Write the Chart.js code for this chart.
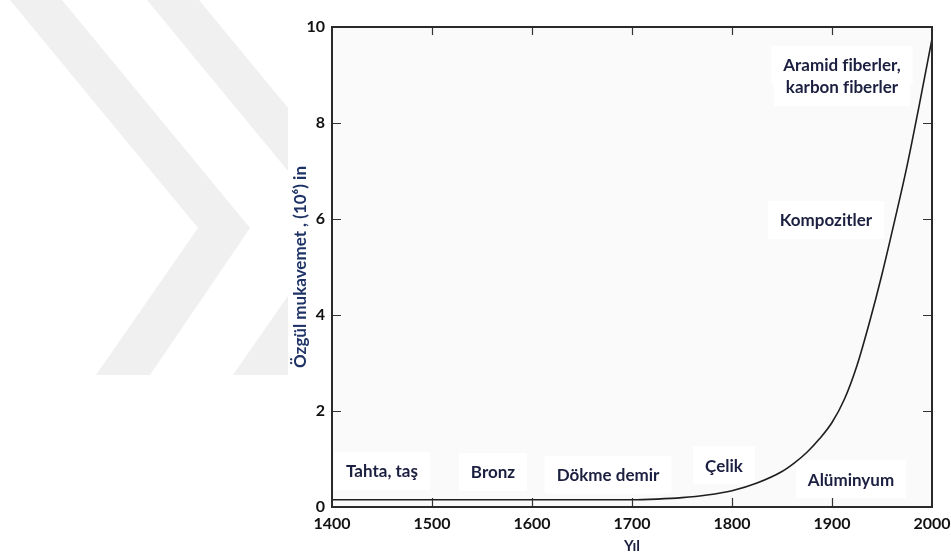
<!DOCTYPE html>
<html lang="tr">
<head>
    <meta charset="UTF-8">
    <title>Özgül mukavemet - Yıl</title>
    <script src="https://cdn.jsdelivr.net/npm/chart.js"></script>
    <style>
        html, body { margin: 0; padding: 0; background: #fff; }
        #wrap { width: 951px; height: 558px; }
    </style>
</head>
<body>
<div id="wrap"><canvas id="strengthChart"></canvas></div>

<script>
    // curve (year -> specific strength, 10^6 in)
    const years  = [1400, 1500, 1600, 1700, 1725, 1750, 1775, 1800, 1825, 1850, 1862.5, 1875, 1887.5, 1900, 1912.5, 1925, 1937.5, 1950, 1962.5, 1975, 1987.5, 2000];
    const values = [0.15, 0.15, 0.15, 0.15, 0.165, 0.195, 0.25, 0.34, 0.5, 0.74, 0.92, 1.14, 1.42, 1.76, 2.25, 2.95, 3.85, 4.85, 5.95, 7.1, 8.4, 9.75];

    // material labels placed on the chart (in data units)
    const noteTexts  = ['Tahta, taş', 'Bronz', 'Dökme demir', 'Çelik', 'Alüminyum', 'Kompozitler', 'Aramid fiberler,', 'karbon fiberler'];
    const noteYears  = [1450, 1561, 1676, 1792, 1919, 1894, 1910, 1910];
    const noteValues = [0.73, 0.71, 0.65, 0.85, 0.56, 5.96, 9.19, 8.73];

    const xTicks = [1400, 1500, 1600, 1700, 1800, 1900, 2000];
    const yTicks = [0, 2, 4, 6, 8, 10];

    const navy = '#1c2040';
    const noteFont = 'bold 17px Lato';

    const backdrop = {
        id: 'backdrop',
        beforeDraw(chart) {
            const c = chart.ctx;
            const a = chart.chartArea;
            c.save();
            c.fillStyle = '#fff';
            c.fillRect(0, 0, chart.width, chart.height);

            // faint chevron watermark on the left
            c.fillStyle = '#f0f0f0';
            [0, 137].forEach(dx => {
                c.beginPath();
                c.moveTo(10 + dx, 0);
                c.lineTo(62 + dx, 0);
                c.lineTo(250 + dx, 228);
                c.lineTo(150 + dx, 375);
                c.lineTo(96 + dx, 375);
                c.lineTo(198 + dx, 228);
                c.closePath();
                c.fill();
            });
            c.fillStyle = '#fff';
            c.fillRect(288, 0, chart.width - 288, chart.height);

            c.fillStyle = '#fafafa';
            c.fillRect(a.left, a.top, a.right - a.left, a.bottom - a.top);

            // white boxes behind the labels
            c.font = noteFont;
            c.fillStyle = '#fff';
            const xs = chart.scales.x, ys = chart.scales.y;
            noteTexts.forEach((t, i) => {
                const w = c.measureText(t).width;
                const px = xs.getPixelForValue(noteYears[i]);
                const py = ys.getPixelForValue(noteValues[i]);
                c.fillRect(px - w / 2 - 12, py - 20, w + 24, 38);
            });
            c.restore();
        },
        afterDraw(chart) {
            const c = chart.ctx;
            const a = chart.chartArea;
            const xs = chart.scales.x, ys = chart.scales.y;
            c.save();
            c.strokeStyle = '#333';
            c.lineWidth = 1.2;
            c.beginPath();
            yTicks.slice(1, -1).forEach(v => {
                const py = Math.round(ys.getPixelForValue(v)) + 0.5;
                c.moveTo(a.left, py); c.lineTo(a.left + 9, py);
                c.moveTo(a.right, py); c.lineTo(a.right - 9, py);
            });
            xTicks.slice(1, -1).forEach(v => {
                const px = Math.round(xs.getPixelForValue(v)) + 0.5;
                c.moveTo(px, a.bottom); c.lineTo(px, a.bottom - 9);
                c.moveTo(px, a.top); c.lineTo(px, a.top + 8);
            });
            c.stroke();

            c.strokeStyle = '#2a2a2a';
            c.lineWidth = 2;
            c.strokeRect(a.left, a.top, a.right - a.left, a.bottom - a.top);

            c.font = noteFont;
            c.fillStyle = navy;
            c.textAlign = 'center';
            c.textBaseline = 'middle';
            noteTexts.forEach((t, i) => {
                c.fillText(t, xs.getPixelForValue(noteYears[i]), ys.getPixelForValue(noteValues[i]));
            });
            c.restore();
        }
    };

    new Chart(document.getElementById('strengthChart'), {
        type: 'line',
        data: {
            datasets: [{
                data: years.map((y, i) => ({x: y, y: values[i]})),
                borderColor: '#1e1e1e',
                borderWidth: 1.6,
                pointRadius: 0,
                fill: false,
                cubicInterpolationMode: 'monotone'
            }]
        },
        options: {
            responsive: true,
            maintainAspectRatio: false,
            animation: false,
            events: [],
            layout: {padding: {left: 290, right: 19, top: 27, bottom: 0}},
            plugins: {legend: {display: false}, tooltip: {enabled: false}},
            scales: {
                x: {
                    type: 'linear',
                    min: 1400,
                    max: 2000,
                    afterBuildTicks: s => { s.ticks = xTicks.map(v => ({value: v})); },
                    afterFit: s => { s.height = 51; s.paddingLeft = 0; s.paddingRight = 0; },
                    grid: {display: false, drawTicks: false},
                    border: {display: false},
                    ticks: {
                        padding: 7,
                        maxRotation: 0,
                        autoSkip: false,
                        color: '#111',
                        font: {family: 'Lato', size: 16, weight: 'bold'},
                        callback: v => String(v)
                    },
                    title: {
                        display: true,
                        text: 'Yıl',
                        color: navy,
                        padding: {top: 0, bottom: 3},
                        font: {family: 'Lato', size: 15, weight: 'bold'}
                    }
                },
                y: {
                    min: 0,
                    max: 10,
                    afterBuildTicks: s => { s.ticks = yTicks.map(v => ({value: v})); },
                    afterFit: s => { s.width = 42; s.paddingTop = 0; s.paddingBottom = 0; },
                    grid: {display: false, drawTicks: false},
                    border: {display: false},
                    ticks: {
                        padding: 7,
                        color: '#111',
                        font: {family: 'Lato', size: 16, weight: 'bold'}
                    },
                    title: {
                        display: true,
                        text: 'Özgül mukavemet , (10⁶) in',
                        color: '#1f3366',
                        padding: {top: 0, bottom: 0},
                        font: {family: 'Lato', size: 17, weight: 'bold'}
                    }
                }
            }
        },
        plugins: [backdrop]
    });
</script>
</body>
</html>
